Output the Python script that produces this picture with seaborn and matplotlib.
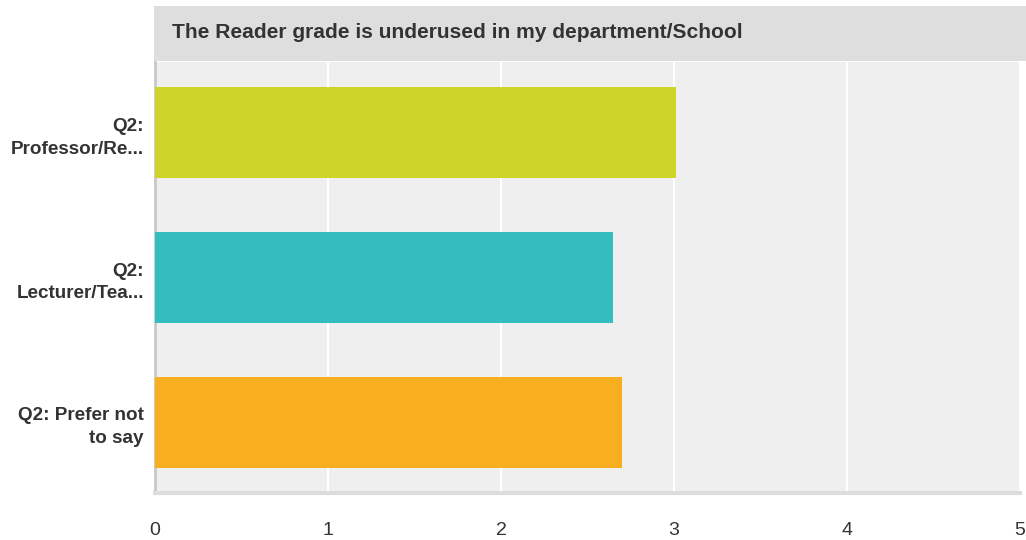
import matplotlib
matplotlib.use("Agg")
import matplotlib.pyplot as plt
import seaborn as sns
import pandas as pd
from matplotlib.patches import Rectangle

categories = ["Q2:\nProfessor/Re...", "Q2:\nLecturer/Tea...", "Q2: Prefer not\nto say"]
values = [3.01, 2.65, 2.70]
colors = ["#D0D428", "#33BDBF", "#F7AF1F"]
xticks = [0, 1, 2, 3, 4, 5]
title = "The Reader grade is underused in my department/School"

sns.set_theme(style="white")
plt.rcParams["font.family"] = ["Liberation Sans", "DejaVu Sans"]

df = pd.DataFrame({"cat": categories, "val": values})

fig = plt.figure(figsize=(10.26, 5.40), dpi=100)
ax = fig.add_axes([155/1026, 47/540, (1020-155)/1026, (493-62)/540])
ax.set_facecolor("#EFEFEF")

sns.barplot(data=df, x="val", y="cat", hue="cat", palette=colors, legend=False,
            orient="h", width=0.63, ax=ax, saturation=1, zorder=3, linewidth=0,
            edgecolor="none")

ax.set_xlim(0, 5.0)
ax.set_ylim(2.49, -0.49)
ax.set_xticks(xticks)
ax.set_xticklabels([str(t) for t in xticks], fontsize=14, color="#333333")
ax.tick_params(axis="x", length=0, pad=21)
ax.tick_params(axis="y", length=0, pad=8)
for lab in ax.get_yticklabels():
    lab.set_fontsize(13.6)
    lab.set_fontweight("bold")
    lab.set_color("#333333")
    lab.set_linespacing(1.45)
    lab.set_horizontalalignment("right")
    lab.set_multialignment("right")
ax.set_xlabel("")
ax.set_ylabel("")
ax.xaxis.grid(True, color="white", linewidth=1.6, zorder=1)
ax.set_axisbelow(True)
for s in ["top", "right"]:
    ax.spines[s].set_visible(False)
ax.spines["left"].set_color("#C8C8C8")
ax.spines["left"].set_linewidth(2)
ax.spines["bottom"].set_color("#DCDCDC")
ax.spines["bottom"].set_linewidth(3)

fig.patches.append(Rectangle((154/1026, (540-61)/540), (1026-154)/1026, 55/540,
                             transform=fig.transFigure, facecolor="#DEDEDE",
                             edgecolor="none", zorder=0))
fig.text(172/1026, (540-33)/540, title, fontsize=15.1, fontweight="bold",
         color="#333333", va="center", ha="left")

fig.savefig("out.png", dpi=100, facecolor="white")
